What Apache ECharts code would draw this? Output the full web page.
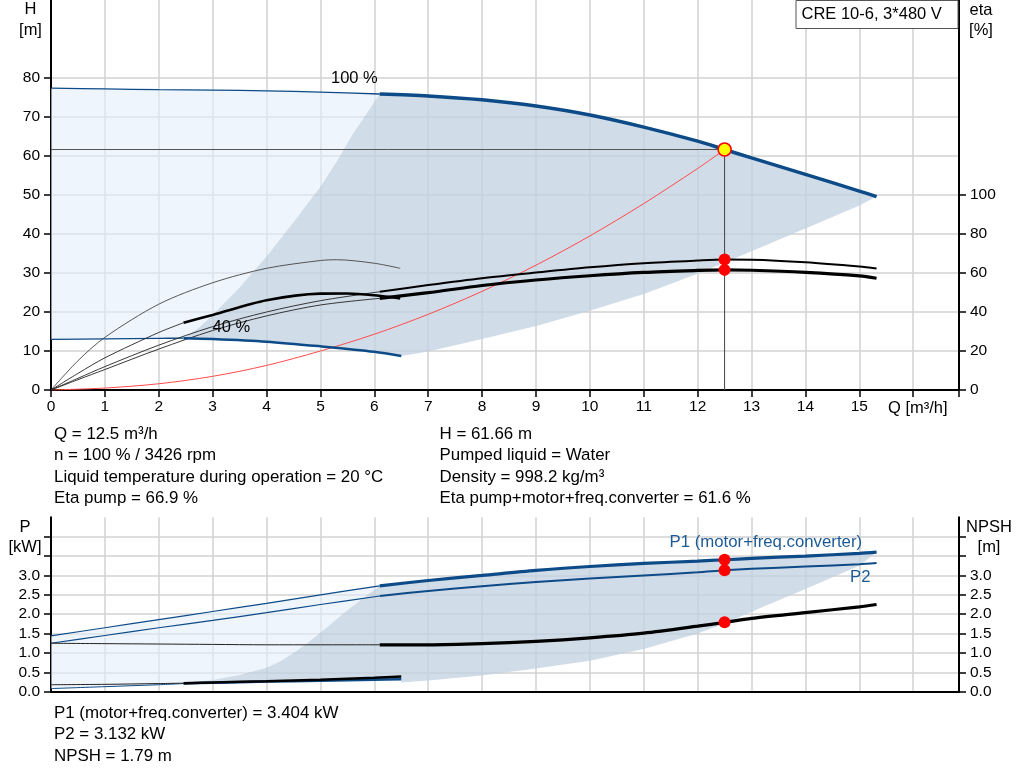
<!DOCTYPE html>
<html><head><meta charset="utf-8">
<script src="https://cdn.jsdelivr.net/npm/echarts@6/dist/echarts.min.js"></script>
<style>html,body{margin:0;padding:0;background:#fff}#c{width:1024px;height:781px}</style>
</head><body><div id="c"></div>
<script>
const FONT = '"Liberation Sans", Arial, sans-serif';

// ---------- top chart: head (m) ----------
const head100Thin  = [[0,77.4],[1,77.2],[2,77.0],[3,76.9],[4,76.7],[5,76.4],[6.1,75.9]];
const head100Thick = [[6.1,75.9],[7,75.4],[8,74.4],[9,72.8],[10,70.5],[11,67.4],[12,63.8],[12.5,61.66],[13,59.5],[14,55.3],[15,51.0],[15.32,49.6]];
const head40Thin   = [[0,13.0],[1,13.1],[2,13.25],[2.46,13.3]];
const head40Thick  = [[2.46,13.3],[3,13.1],[4,12.4],[5,11.2],[6,9.8],[6.5,8.7]];
const systemCurve  = [[0,0],[1,0.5],[2,1.6],[3,3.5],[4,6.3],[5,10],[6,14.3],[7,19.4],[8,25.3],[9,32],[10,39.5],[11,47.8],[12,56.8],[12.5,61.66]];
const darkLeftTop   = [[2.46,13.3],[2.75,16],[3,19.2],[3.5,26.3],[4,34.2],[4.5,43],[5,52.1],[5.3,58.5],[5.6,65.6],[5.85,70.8],[6.1,75.9]];
const darkBottomTop = [[6.5,8.7],[7,9.9],[8,13.1],[9,16.4],[10,20.3],[11,24.6],[12,29.8],[13,35.6],[14,41.4],[15,47.3],[15.32,49.6]];

// ---------- top chart: efficiency (%) ----------
const etaPump100Thin   = [[0,0],[0.5,6],[1,12],[2,23],[3,32.5],[4,40],[5,45.8],[6.1,50.4]];
const etaPump100Thick  = [[6.1,50.4],[7,53.8],[8,57.3],[9,60.2],[10,62.9],[11,65],[12,66.4],[12.5,66.9],[13,66.8],[14,65.5],[15,63.3],[15.32,62.3]];
const etaTotal100Thin  = [[0,0],[0.5,5.3],[1,10.5],[2,21],[3,30.5],[4,38],[5,43.6],[6.1,47]];
const etaTotal100Thick = [[6.1,47],[7,49.9],[8,53.6],[9,56.4],[10,58.6],[11,60.3],[12,61.3],[12.5,61.6],[13,61.4],[14,60.3],[15,58.5],[15.32,57.3]];
const etaPump40        = [[0,0],[0.5,15],[1,27],[2,44],[3,55],[4,62.4],[5,66.4],[5.3,66.8],[6,65],[6.48,62.4]];
const etaTotal40Thin   = [[0,0],[0.5,8.5],[1,16.5],[2,29.5],[2.46,34.5]];
const etaTotal40Thick  = [[2.46,34.5],[3,38.5],[4,46],[5,49.4],[5.5,49.5],[6,48.6],[6.48,47]];

// ---------- operating point ----------
const opQ = 12.5, opH = 61.66, opEtaPump = 66.9, opEtaTotal = 61.6;
const opP1 = 3.404, opP2 = 3.132, opNPSH = 1.79;

// ---------- bottom chart: power (kW) & NPSH (m) ----------
const p1Thin   = [[0,1.44],[1,1.65],[2,1.86],[3,2.07],[4,2.28],[5,2.5],[6.1,2.73]];
const p1Thick  = [[6.1,2.73],[7,2.87],[8,3.0],[9,3.13],[10,3.23],[11,3.31],[12,3.37],[12.5,3.404],[13,3.44],[14,3.5],[15,3.57],[15.32,3.6]];
const p2Thin   = [[0,1.25],[1,1.45],[2,1.65],[3,1.84],[4,2.04],[5,2.25],[6.1,2.47]];
const p2Thick  = [[6.1,2.47],[7,2.6],[8,2.72],[9,2.83],[10,2.92],[11,3.0],[12,3.08],[12.5,3.132],[13,3.17],[14,3.23],[15,3.29],[15.32,3.32]];
const npshThin  = [[0,1.25],[1,1.24],[2,1.23],[3,1.22],[4,1.21],[5,1.21],[6.1,1.21]];
const npshThick = [[6.1,1.21],[7,1.21],[8,1.24],[9,1.3],[10,1.39],[11,1.51],[12,1.69],[12.5,1.79],[13,1.89],[14,2.04],[15,2.19],[15.32,2.25]];
const pBlack40Thin  = [[0,0.18],[1,0.19],[2,0.21],[2.46,0.22]];
const pBlack40Thick = [[2.46,0.22],[3,0.24],[4,0.27],[5,0.31],[6,0.36],[6.5,0.39]];
const pBlue40Thin   = [[0,0.08],[1,0.13],[2,0.18],[2.46,0.21]];
const pBlue40Thick  = [[2.46,0.21],[3,0.23],[4,0.26],[5,0.28],[6,0.31],[6.5,0.32]];
const darkLeftBot   = [[2.46,0.22],[3,0.3],[3.5,0.43],[4,0.62],[4.25,0.78],[4.5,1.0],[4.75,1.25],[5,1.52],[5.5,2.1],[5.8,2.42],[6.1,2.73]];
const darkBottomBot = [[6.5,0.24],[7,0.29],[8,0.42],[9,0.6],[10,0.8],[11,1.1],[12,1.5],[12.5,1.76],[13,2.06],[14,2.65],[15,3.25],[15.32,3.6]];

// ---------- axis ticks / texts ----------
const qTicksLabelMax = 15;
const hLabelMax = 80, etaLabelMax = 100, pLabelMax = 3.0;
const hTicks = [0,10,20,30,40,50,60,70,80];
const etaTicks = [0,20,40,60,80,100];
const pTicks = [0,0.5,1,1.5,2,2.5,3,3.5,4];
const pLabels = [0,0.5,1,1.5,2,2.5,3];
const infoLeft = ['Q = 12.5 m³/h','n = 100 % / 3426 rpm','Liquid temperature during operation = 20 °C','Eta pump = 66.9 %'];
const infoRight = ['H = 61.66 m','Pumped liquid = Water','Density = 998.2 kg/m³','Eta pump+motor+freq.converter = 61.6 %'];
const infoBottom = ['P1 (motor+freq.converter) = 3.404 kW','P2 = 3.132 kW','NPSH = 1.79 m'];

const BLUE = '#0d4b88', LIGHT = 'rgba(227,238,250,0.6)', DARK = 'rgba(192,208,223,0.75)';

function rev(a){ return a.slice().reverse(); }
function poly(points, color, xi, yi){
  return {type:'custom', xAxisIndex:xi, yAxisIndex:yi, silent:true, z:1, data:[[0,0]],
    renderItem:function(params, api){
      return {type:'polygon', shape:{points: points.map(p=>api.coord(p))}, style:{fill:color}};
    }};
}
function ln(data, color, width, xi, yi, z){
  return {type:'line', data:data, xAxisIndex:xi, yAxisIndex:yi, showSymbol:false, symbol:'none', smooth:0.3,
    silent:true, z:z||3, lineStyle:{color:color, width:width}};
}

const lightTop = head100Thin.concat(rev(darkLeftTop), rev(head40Thin));
const darkTop  = darkLeftTop.concat(head100Thick, rev(darkBottomTop), rev(head40Thick));
const lightBot = p1Thin.concat(rev(darkLeftBot), rev(pBlue40Thin));
const darkBot  = darkLeftBot.concat(p1Thick, rev(darkBottomBot), rev(pBlue40Thick));

const axisCommon = {
  axisLine:{show:true, onZero:false, lineStyle:{color:'#000', width:2}},
  axisLabel:{color:'#000', fontSize:15.5, fontFamily:FONT},
};
const gridLine = {show:true, lineStyle:{color:'#d2d2d2', width:1.5}};

const txt = (t, x, y, opt) => Object.assign({type:'text', z:50, style:Object.assign({text:t, x:x, y:y, fill:'#000', font:'16px '+FONT, align:'left', verticalAlign:'middle'}, opt||{})});

const graphics = [
  txt('H', 30.5, 9, {align:'center', font:'16.5px '+FONT}), txt('[m]', 30.5, 30, {align:'center', font:'16.5px '+FONT}),
  txt('eta', 981, 10, {align:'center', font:'16.5px '+FONT}), txt('[%]', 981, 30, {align:'center', font:'16.5px '+FONT}),
  {type:'rect', z:49, shape:{x:796, y:0.5, width:162, height:28}, style:{fill:'#fff', stroke:'#555', lineWidth:1}},
  txt('CRE 10-6, 3*480 V', 801.5, 14.5, {font:'16.5px '+FONT}),
  txt('100 %', 331, 78.5, {font:'16.5px '+FONT}),
  txt('40 %', 212.5, 327.5, {font:'16.5px '+FONT}),
  txt('Q [m³/h]', 888, 408, {font:'16.5px '+FONT}),
  txt('P', 25, 527, {align:'center', font:'16.5px '+FONT}), txt('[kW]', 25, 547, {align:'center', font:'16.5px '+FONT}),
  txt('NPSH', 989, 527, {align:'center', font:'16.5px '+FONT}), txt('[m]', 989, 547.5, {align:'center', font:'16.5px '+FONT}),
  txt('P1 (motor+freq.converter)', 669.5, 542, {fill:'#1c5a97', font:'16.8px '+FONT}),
  txt('P2', 850, 577.5, {fill:'#1c5a97', font:'16.8px '+FONT})
];
infoLeft.forEach((t,i)=>graphics.push(txt(t, 54, 434 + i*21.6, {font:'16.9px '+FONT})));
infoRight.forEach((t,i)=>graphics.push(txt(t, 439.5, 434 + i*21.6, {font:'16.9px '+FONT})));
infoBottom.forEach((t,i)=>graphics.push(txt(t, 54, 713 + i*21.6, {font:'16.9px '+FONT})));

const option = {
  animation:false,
  backgroundColor:'#fff',
  grid:[
    {left:51, right:65, top:0, height:390},
    {left:51, right:65, top:517.3, height:174.4}
  ],
  xAxis:[
    Object.assign({}, axisCommon, {gridIndex:0, type:'value', min:0, max:16.85, interval:1,
      axisTick:{show:true, length:7, lineStyle:{color:'#000', width:1.5}},
      axisLabel:Object.assign({}, axisCommon.axisLabel, {margin:9, formatter:v=> v<=qTicksLabelMax+0.01 && Math.abs(v-Math.round(v))<1e-6 ? String(v) : ''}),
      splitLine:gridLine}),
    Object.assign({}, axisCommon, {gridIndex:1, type:'value', min:0, max:16.85, interval:1,
      axisTick:{show:false}, axisLabel:{show:false}, splitLine:gridLine})
  ],
  yAxis:[
    Object.assign({}, axisCommon, {gridIndex:0, type:'value', position:'left', min:0, max:100, interval:10,
      axisTick:{show:true, length:7, customValues:hTicks, lineStyle:{color:'#000', width:1.5}},
      axisLabel:Object.assign({}, axisCommon.axisLabel, {margin:11, customValues:hTicks, formatter:v=> v<=hLabelMax ? String(v) : ''}),
      splitLine:gridLine}),
    Object.assign({}, axisCommon, {gridIndex:0, type:'value', position:'right', min:0, max:200, interval:20,
      axisTick:{show:true, length:7, customValues:etaTicks, lineStyle:{color:'#000', width:1.5}},
      axisLabel:Object.assign({}, axisCommon.axisLabel, {margin:11, customValues:etaTicks, formatter:v=> v<=etaLabelMax ? String(v) : ''}),
      splitLine:{show:false}}),
    Object.assign({}, axisCommon, {gridIndex:1, type:'value', position:'left', min:0, max:4.5, interval:0.5,
      axisTick:{show:true, length:7, customValues:pTicks, lineStyle:{color:'#000', width:1.5}},
      axisLabel:Object.assign({}, axisCommon.axisLabel, {margin:11, customValues:pLabels, formatter:v=> v<=pLabelMax+1e-6 ? v.toFixed(1) : ''}),
      splitLine:gridLine}),
    Object.assign({}, axisCommon, {gridIndex:1, type:'value', position:'right', min:0, max:4.5, interval:0.5,
      axisTick:{show:true, length:7, customValues:pTicks, lineStyle:{color:'#000', width:1.5}},
      axisLabel:Object.assign({}, axisCommon.axisLabel, {margin:11, customValues:pLabels, formatter:v=> v<=pLabelMax+1e-6 ? v.toFixed(1) : ''}),
      splitLine:{show:false}})
  ],
  graphic:graphics,
  series:[
    // fills
    poly(lightTop, LIGHT, 0, 0),
    poly(darkTop, DARK, 0, 0),
    poly(lightBot, LIGHT, 1, 2),
    poly(darkBot, DARK, 1, 2),
    // top: head curves
    ln(head100Thin, BLUE, 1.3, 0, 0),
    ln(head100Thick, BLUE, 3.5, 0, 0, 4),
    ln(head40Thin, BLUE, 1.3, 0, 0),
    ln(head40Thick, BLUE, 2.5, 0, 0, 4),
    ln(systemCurve, '#ff4a4a', 1, 0, 0, 3),
    // top: efficiency curves
    ln(etaPump40, '#444', 0.9, 0, 1),
    ln(etaTotal40Thin, '#222', 0.9, 0, 1),
    ln(etaTotal40Thick, '#000', 2.6, 0, 1, 4),
    ln(etaPump100Thin, '#222', 0.9, 0, 1),
    ln(etaPump100Thick, '#000', 2, 0, 1, 4),
    ln(etaTotal100Thin, '#222', 0.9, 0, 1),
    ln(etaTotal100Thick, '#000', 3.2, 0, 1, 4),
    // operating point lines
    {type:'line', xAxisIndex:0, yAxisIndex:0, data:[[0,opH],[opQ,opH]], showSymbol:false, symbol:'none', silent:true, z:5, lineStyle:{color:'#555', width:1}},
    {type:'line', xAxisIndex:0, yAxisIndex:0, data:[[opQ,0],[opQ,opH]], showSymbol:false, symbol:'none', silent:true, z:5, lineStyle:{color:'#444', width:1}},
    {type:'scatter', xAxisIndex:0, yAxisIndex:1, data:[[opQ,opEtaPump],[opQ,opEtaTotal]], symbolSize:12, silent:true, z:6, itemStyle:{color:'#ff0000', opacity:1}},
    {type:'scatter', xAxisIndex:0, yAxisIndex:0, data:[[opQ,opH]], symbolSize:13, silent:true, z:7, itemStyle:{color:'#ffff00', borderColor:'#ff0000', borderWidth:1.6, opacity:1}},
    // bottom curves
    ln(pBlue40Thin, BLUE, 1, 1, 2),
    ln(pBlack40Thin, '#222', 1, 1, 2),
    ln(pBlue40Thick, BLUE, 2.5, 1, 2, 4),
    ln(pBlack40Thick, '#000', 2.5, 1, 2, 4),
    ln(p1Thin, BLUE, 1.2, 1, 2),
    ln(p1Thick, BLUE, 3.2, 1, 2, 4),
    ln(p2Thin, BLUE, 1.2, 1, 2),
    ln(p2Thick, BLUE, 2, 1, 2, 4),
    ln(npshThin, '#222', 1, 1, 3),
    ln(npshThick, '#000', 3.2, 1, 3, 4),
    {type:'scatter', xAxisIndex:1, yAxisIndex:2, data:[[opQ,opP1],[opQ,opP2]], symbolSize:12, silent:true, z:6, itemStyle:{color:'#ff0000', opacity:1}},
    {type:'scatter', xAxisIndex:1, yAxisIndex:3, data:[[opQ,opNPSH]], symbolSize:12, silent:true, z:6, itemStyle:{color:'#ff0000', opacity:1}}
  ]
};
const chart = echarts.init(document.getElementById('c'));
chart.setOption(option);
</script>
</body></html>
